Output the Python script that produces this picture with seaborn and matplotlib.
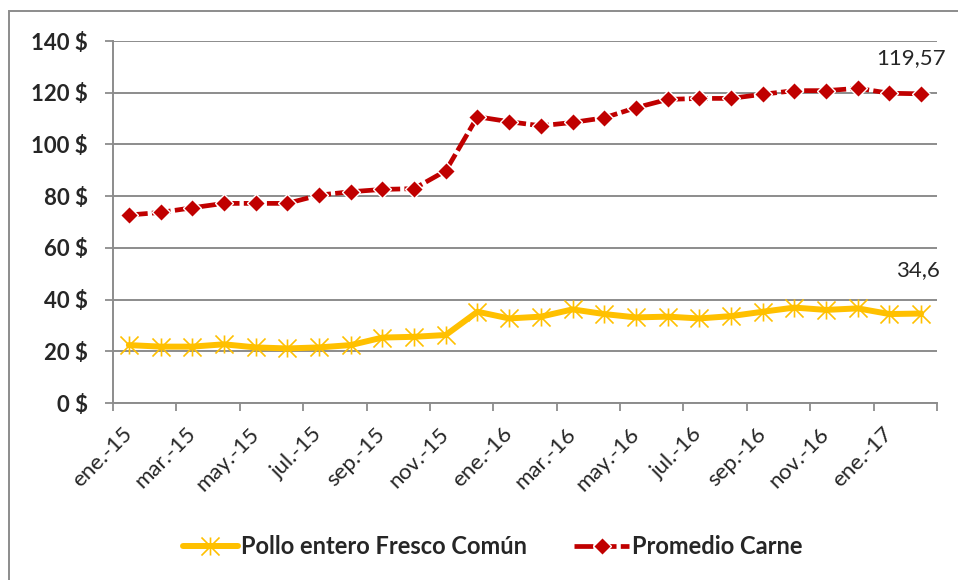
import numpy as np
import pandas as pd
import matplotlib
matplotlib.use('Agg')
import matplotlib.pyplot as plt
from matplotlib.path import Path
from matplotlib.patches import Rectangle
import seaborn as sns

# monthly data, ene.-15 .. feb.-17
meses = ['ene.', 'feb.', 'mar.', 'abr.', 'may.', 'jun.',
         'jul.', 'ago.', 'sep.', 'oct.', 'nov.', 'dic.']
anios = ['15', '16', '17']
fechas = [m + '-' + a for a in anios for m in meses][:26]

pollo = [22.4, 21.8, 21.8, 22.7, 21.5, 21.1, 21.5, 22.4, 25.3, 25.6, 26.3,
         35.3, 32.7, 33.4, 36.2, 34.4, 33.1, 33.4, 32.7, 33.6, 35.3, 36.9,
         36.0, 36.6, 34.4, 34.6]
carne = [72.7, 73.7, 75.5, 77.2, 77.2, 77.2, 80.4, 81.7, 82.6, 82.9, 89.8,
         110.7, 108.8, 107.2, 108.5, 110.3, 114.2, 117.4, 117.8, 117.8, 119.4,
         120.8, 120.8, 121.7, 119.8, 119.57]
serie_pollo = 'Pollo entero Fresco Común'
serie_carne = 'Promedio Carne'
etiqueta_pollo = '34,6'
etiqueta_carne = '119,57'
yticks = [0, 20, 40, 60, 80, 100, 120, 140]

df = pd.DataFrame({'mes': np.arange(len(fechas)), 'pollo': pollo, 'carne': carne})

sns.set_style('white')
plt.rcParams['font.family'] = ['Lato', 'DejaVu Sans']

amarillo = '#FFC000'
rojo = '#C00000'
gris = '#8c8c8c'

# excel style star: vertical bar + X
estrella = Path([(0, -1), (0, 1), (-1, -1), (1, 1), (-1, 1), (1, -1)],
                [Path.MOVETO, Path.LINETO, Path.MOVETO, Path.LINETO, Path.MOVETO, Path.LINETO])

fig = plt.figure(figsize=(9.58, 5.8), dpi=100)
ax = fig.add_axes([113/958, 1-403/580, (937-113)/958, (403-41)/580])

sns.lineplot(x='mes', y='pollo', data=df, ax=ax, color=amarillo, lw=4.3,
             marker=estrella, markersize=13, markeredgewidth=1.2,
             markeredgecolor=amarillo, label=serie_pollo, zorder=3)
sns.lineplot(x='mes', y='carne', data=df, ax=ax, color=rojo, lw=3.4,
             linestyle=(0, (4, 0.9)), marker='D', markersize=9.5,
             markeredgewidth=1, markeredgecolor='white', label=serie_carne, zorder=3)

ax.set_xlim(-0.5, len(fechas) - 0.5)
ax.set_ylim(0, 140)
ax.set_yticks(yticks)
ax.set_yticklabels([f'{v} $' for v in yticks], fontsize=16, fontweight='bold')
ax.yaxis.grid(True, color=gris, lw=1.4, zorder=0)
ax.xaxis.grid(False)

# tick marks between categories, labels on every second month
ax.set_xticks(np.arange(-0.5, len(fechas), 2))
ax.set_xticklabels([])
ax.set_xticks(np.arange(0, len(fechas), 2), minor=True)
ax.set_xticklabels(fechas[::2], minor=True, fontsize=16, rotation=45,
                   ha='right', va='center', rotation_mode='anchor')
ax.tick_params(axis='x', which='major', length=6, width=1.3, color=gris, direction='out', bottom=True)
ax.tick_params(axis='x', which='minor', length=0, pad=20)
ax.tick_params(axis='y', length=6, width=1.3, color=gris, direction='out', left=True, pad=12)
ax.set_xlabel('')
ax.set_ylabel('')

for s in ['top', 'right']:
    ax.spines[s].set_visible(False)
for s in ['left', 'bottom']:
    ax.spines[s].set_color(gris)
    ax.spines[s].set_linewidth(1.4)

ax.annotate(etiqueta_carne, xy=(len(fechas) - 1, carne[-1]), xytext=(-7, 26),
            textcoords='offset points', ha='center', va='center', fontsize=16)
ax.annotate(etiqueta_pollo, xy=(len(fechas) - 1, pollo[-1]), xytext=(-2, 31),
            textcoords='offset points', ha='center', va='center', fontsize=16)

handles, labels = ax.get_legend_handles_labels()
ax.get_legend().remove()
fig.legend(handles, labels, loc='center', bbox_to_anchor=(493/958, 1-547/580),
           ncol=2, frameon=False, prop={'size': 17, 'weight': 'bold'},
           handlelength=2.3, handletextpad=0.15, columnspacing=2.0)

# chart area border (only top/left visible in crop)
fig.add_artist(Rectangle((9/958, -0.2), 1.2, 1.2 - 11/580, transform=fig.transFigure,
                         fill=False, edgecolor=gris, lw=1.4))

fig.savefig('out.png', dpi=100)
